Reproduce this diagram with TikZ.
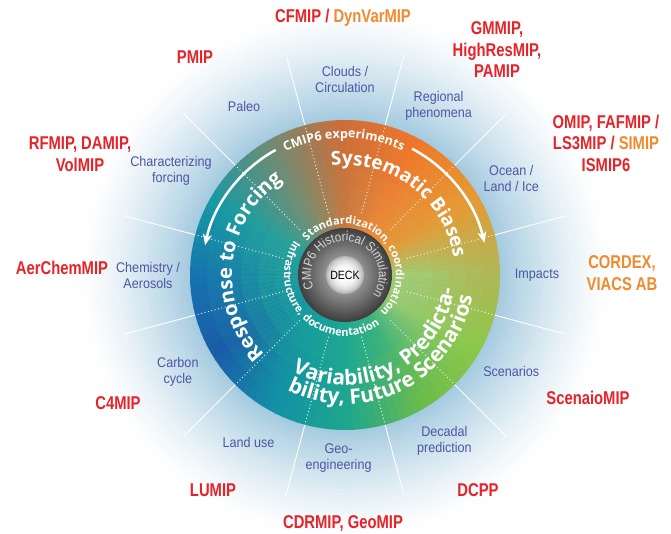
\documentclass[tikz,border=0pt]{standalone}
\usepackage{fontspec}
\usepackage{tikz}
\usetikzlibrary{arrows.meta,decorations.text}

\newfontfamily\labfont[FakeStretch=0.9]{Liberation Sans}
\newfontfamily\mipfont[FakeStretch=0.8]{Liberation Sans}
\newfontfamily\hubfont[FakeStretch=0.88]{Liberation Sans}
\newfontfamily\arcfont{Open Sans}

\definecolor{mipred}{HTML}{E52329}
\definecolor{miporange}{HTML}{F18A2E}
\definecolor{topicblue}{HTML}{4E55A2}
\definecolor{glowblue}{HTML}{A6CBE0}
\definecolor{ringdark}{HTML}{404040}
\definecolor{ringlight}{HTML}{8E8E8E}
\definecolor{deckedge}{HTML}{B4B4B4}
\definecolor{hubtext}{HTML}{D6D6D6}
% colours of the wheel at 0, 30, ..., 330 degrees
\definecolor{rim0}{HTML}{B2B656}
\definecolor{rim1}{HTML}{E69A34}
\definecolor{rim2}{HTML}{F0762A}
\definecolor{rim3}{HTML}{CC6E3A}
\definecolor{rim4}{HTML}{6A8C78}
\definecolor{rim5}{HTML}{169AA4}
\definecolor{rim6}{HTML}{1772AE}
\definecolor{rim7}{HTML}{1A5CA8}
\definecolor{rim8}{HTML}{1290A6}
\definecolor{rim9}{HTML}{1FA78C}
\definecolor{rim10}{HTML}{6CBC4A}
\definecolor{rim11}{HTML}{8CC84A}
\definecolor{hub0}{HTML}{A2CC76}
\definecolor{hub1}{HTML}{E49A3A}
\definecolor{hub2}{HTML}{E8883A}
\definecolor{hub3}{HTML}{C47A42}
\definecolor{hub4}{HTML}{7A8E72}
\definecolor{hub5}{HTML}{2AA29A}
\definecolor{hub6}{HTML}{1F9E9E}
\definecolor{hub7}{HTML}{1A9AA0}
\definecolor{hub8}{HTML}{18A09A}
\definecolor{hub9}{HTML}{1EA892}
\definecolor{hub10}{HTML}{3AB282}
\definecolor{hub11}{HTML}{96CA74}

\tikzset{
	topic/.style={text=topicblue, align=center, font=\labfont\fontsize{14}{16}\selectfont},
	mip/.style={text=mipred, align=center, font=\mipfont\bfseries\fontsize{18.5}{21.5}\selectfont},
	ringtext/.style={decorate, decoration={text along path, text align=center, text color=white, text={#1}}}
}

\begin{document}
\begin{tikzpicture}[x=1pt, y=1pt]
		\useasboundingbox (-345,-259) rectangle (326,275);

		\foreach \r in {270,266,...,158}{
			\pgfmathtruncatemacro{\p}{100*((270-\r)/112)^1.35}
			\fill[glowblue!\p!white] (0,0) circle (\r);
		}
		\foreach \a in {15,45,...,345}
			\draw[white, line width=0.9pt] (\a:155) -- (\a:228);

		\foreach \a in {0,3,...,357}{
			\pgfmathtruncatemacro{\i}{\a/30}
			\pgfmathtruncatemacro{\j}{mod(\i+1,12)}
			\pgfmathtruncatemacro{\p}{100-(\a-30*\i)*10/3}
			\colorlet{rimc}{rim\i!\p!rim\j}
			\colorlet{hubc}{hub\i!\p!hub\j}
			\foreach \b/\w in {155/0,138/15,121/35,104/60,87/85,70/100}
				\fill[hubc!\w!rimc] (0,0) -- (\a:\b) arc[start angle=\a, end angle=\a+3.6, radius=\b] -- cycle;
		}
		\foreach \a in {15,45,...,345}
			\draw[white, line width=0.9pt, dash pattern=on 0.9pt off 2.6pt] (\a:64) -- (\a:155);

		\foreach \r in {47,46,...,20}{
			\pgfmathtruncatemacro{\p}{(47-\r)*100/27}
			\fill[ringlight!\p!ringdark] (0,0) circle (\r);
		}
		\foreach \r in {19,18,...,1}{
			\pgfmathtruncatemacro{\p}{100*(1-(\r/19)^3)}
			\fill[white!\p!deckedge] (0,0) circle (\r);
		}
		\node[font=\hubfont\fontsize{12}{12}\selectfont] (deck) at (0,0) {DECK};

		\path[decorate, decoration={text along path, text align=center, text color=hubtext,
			text={|\hubfont\fontsize{13}{13}\selectfont|CMIP6 Historical Simulation}}]
			(214:34) arc[start angle=214, end angle=-46, radius=34];
		\path[ringtext={|\arcfont\bfseries\fontsize{11}{11}\selectfont|Standardization{,} coordination}]
			(146:51) arc[start angle=146, end angle=-54, radius=51];
		\path[ringtext={|\arcfont\bfseries\fontsize{11}{11}\selectfont|Infrastructure{,} documentation}]
			(130:61) arc[start angle=130, end angle=321, radius=61];

		\path[ringtext={|\arcfont\bfseries\fontsize{12.5}{12.5}\selectfont|CMIP6 experiments}]
			(125:137) arc[start angle=125, end angle=56, radius=137];
		\draw[white, line width=2.5pt, -{Stealth[length=11pt, width=9pt, inset=3pt]}]
			(119:143) arc[start angle=119, end angle=168, radius=143];
		\draw[white, line width=2.5pt, -{Stealth[length=11pt, width=9pt, inset=3pt]}]
			(62:143) arc[start angle=62, end angle=13, radius=143];

		\path[ringtext={|\arcfont\bfseries\fontsize{19}{19}\selectfont|Systematic Biases}]
			(120:110) arc[start angle=120, end angle=-14, radius=110];
		\path[ringtext={|\arcfont\bfseries\fontsize{20}{20}\selectfont|Response to Forcing}]
			(250:113) arc[start angle=250, end angle=98, radius=113];
		\path[ringtext={|\arcfont\bfseries\fontsize{21}{21}\selectfont|Variability{,} Predicta-}]
			(228:110) arc[start angle=228, end angle=366, radius=110];
		\path[ringtext={|\arcfont\bfseries\fontsize{21}{21}\selectfont|bility{,} Future Scenarios}]
			(228:129) arc[start angle=228, end angle=366, radius=129];

		\foreach \ang/\rad/\txt [count=\n] in {90/195/{Clouds /\\Circulation}, 61/193/{Regional\\phenomena},
				30/192/{Ocean /\\Land / Ice}, 0/192/{Impacts}, -30/192/{Scenarios}, -59/193/{Decadal\\prediction},
				-92/183/{Geo-\\engineering}, -120/193/{Land use}, -150/193/{Carbon\\cycle},
				180/197/{Chemistry /\\Aerosols}, 149/203/{Characterizing\\forcing}, 121/196/{Paleo}}
			\node[topic] (topic\n) at (\ang:\rad) {\txt};

		\node[mip] (cfmip) at (-2,257) {CFMIP / \textcolor{miporange}{DynVarMIP}};
		\node[mip] (gmmip) at (152,225) {GMMIP,\\HighResMIP,\\PAMIP};
		\node[mip] (pmip) at (-150,218) {PMIP};
		\node[mip] (omip) at (261,132) {OMIP, FAFMIP /\\LS3MIP / \textcolor{miporange}{SIMIP}\\ISMIP6};
		\node[mip] (rfmip) at (-265,121) {RFMIP, DAMIP,\\VolMIP};
		\node[mip] (aerchemmip) at (-283,7) {AerChemMIP};
		\node[mip, text=miporange] (cordex) at (277,2) {CORDEX,\\VIACS AB};
		\node[mip] (scenariomip) at (243,-123) {ScenaioMIP};
		\node[mip] (c4mip) at (-227,-128) {C4MIP};
		\node[mip] (lumip) at (-132,-215) {LUMIP};
		\node[mip] (dcpp) at (133,-215) {DCPP};
		\node[mip] (cdrmip) at (-2,-248) {CDRMIP, GeoMIP};
	\end{tikzpicture}
\end{document}
